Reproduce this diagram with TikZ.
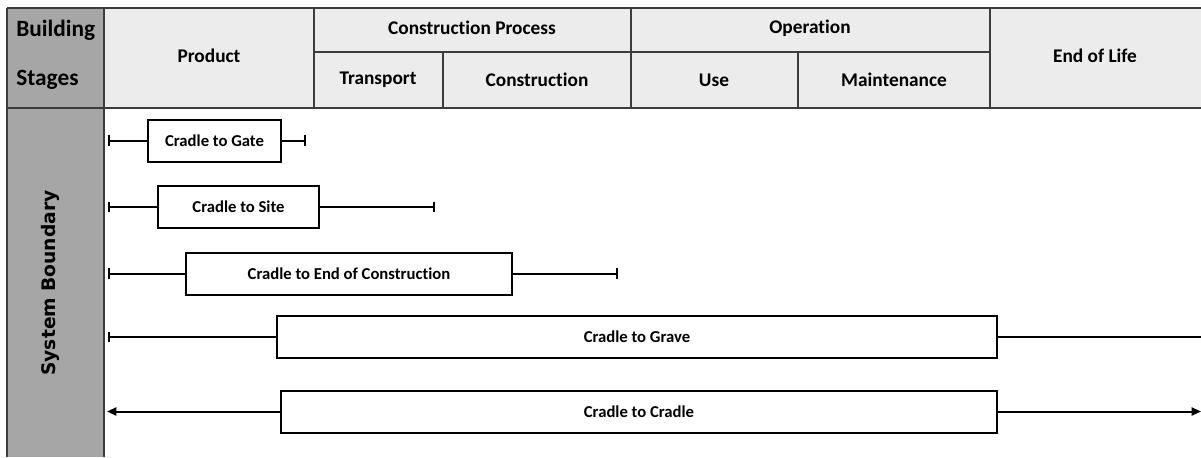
\documentclass[tikz,border=0pt]{standalone}
\usepackage{fontspec}
\setmainfont{Carlito}[Ligatures={NoCommon}]
\newfontfamily\sysfont{DejaVu Sans}
\usepackage{tikz}
\usetikzlibrary{arrows.meta}
\definecolor{hdrfill}{RGB}{236, 236, 236}
\definecolor{sidefill}{RGB}{166, 166, 166}
\definecolor{gridline}{RGB}{60, 60, 60}

\tikzset{
  hdr/.style={font=\bfseries\fontsize{14.5}{17}\selectfont, inner sep=0pt},
  side/.style={font=\bfseries\fontsize{17.5}{20}\selectfont, inner sep=0pt, anchor=west},
  stagebox/.style={draw, line width=1.5pt, fill=white, inner sep=0pt,
    minimum height=31.5pt, font=\bfseries\fontsize{12.5}{14}\selectfont},
  stageline/.style={line width=1.5pt},
  grid/.style={draw=gridline, line width=1.2pt}
}

\begin{document}
\begin{tikzpicture}[x=0.75pt, y=-0.75pt]
  \useasboundingbox (0,0) rectangle (1201,457);

  % Header and side fills
  \fill[hdrfill] (104,8) rectangle (1201,108);
  \fill[sidefill] (7,8) rectangle (104,457);

  % Table lines
  \draw[grid] (7,8) -- (1201,8);
  \draw[grid] (7,108) -- (1201,108);
  \draw[grid] (314,52) -- (990,52);
  \draw[grid] (7,8) -- (7,457);
  \draw[grid] (104,8) -- (104,457);
  \draw[grid] (314,8) -- (314,108);
  \draw[grid] (443,52) -- (443,108);
  \draw[grid] (631,8) -- (631,108);
  \draw[grid] (798,52) -- (798,108);
  \draw[grid] (990,8) -- (990,108);

  % Header texts
  \node[side] (build) at (16,30) {Building};
  \node[side] (stages) at (16,80) {Stages};
  \node[hdr] (prod) at (209,56) {Product};
  \node[hdr] (cproc) at (472,28) {Construction Process};
  \node[hdr] (trans) at (378,80) {Transport};
  \node[hdr] (constr) at (537,80) {Construction};
  \node[hdr] (oper) at (810,28) {Operation};
  \node[hdr] (use) at (714,80) {Use};
  \node[hdr] (maint) at (894,80) {Maintenance};
  \node[hdr] (eol) at (1095,56) {End of Life};

  \node[rotate=90, inner sep=0pt, font=\sysfont\bfseries\fontsize{14}{16}\selectfont] (sysb) at (50,283) {System Boundary};

  % Stage boxes
  \node[stagebox, minimum width=99.75pt] (gate) at (214.5,140.5) {Cradle to Gate};
  \node[stagebox, minimum width=120.75pt] (site) at (238.5,207) {Cradle to Site};
  \node[stagebox, minimum width=244.5pt] (eoc) at (349,273.5) {Cradle to End of Construction};
  \node[stagebox, minimum width=540pt] (grave) at (637,337) {Cradle to Grave};
  \node[stagebox, minimum width=537pt] (cradle) at (639,411.5) {Cradle to Cradle};

  % Free ends
  \coordinate (gate-l) at (108,140.5);
  \coordinate (gate-r) at (306,140.5);
  \coordinate (site-l) at (108,207);
  \coordinate (site-r) at (435,207);
  \coordinate (eoc-l) at (108,273.5);
  \coordinate (eoc-r) at (618,273.5);
  \coordinate (grave-l) at (108,337);
  \coordinate (grave-r) at (1201,337);
  \coordinate (cradle-l) at (107,411.5);
  \coordinate (cradle-r) at (1201,411.5);

  % Connectors
  \draw[stageline, {Bar[width=8pt]}-] (gate-l) -- (gate.west);
  \draw[stageline, -{Bar[width=8pt]}] (gate.east) -- (gate-r);
  \draw[stageline, {Bar[width=8pt]}-] (site-l) -- (site.west);
  \draw[stageline, -{Bar[width=8pt]}] (site.east) -- (site-r);
  \draw[stageline, {Bar[width=8pt]}-] (eoc-l) -- (eoc.west);
  \draw[stageline, -{Bar[width=8pt]}] (eoc.east) -- (eoc-r);
  \draw[stageline, {Bar[width=8pt]}-] (grave-l) -- (grave.west);
  \draw[stageline] (grave.east) -- (grave-r);
  \draw[stageline, {Triangle[length=7pt, width=6pt]}-] (cradle-l) -- (cradle.west);
  \draw[stageline, -{Triangle[length=7pt, width=6pt]}] (cradle.east) -- (cradle-r);
\end{tikzpicture}
\end{document}
